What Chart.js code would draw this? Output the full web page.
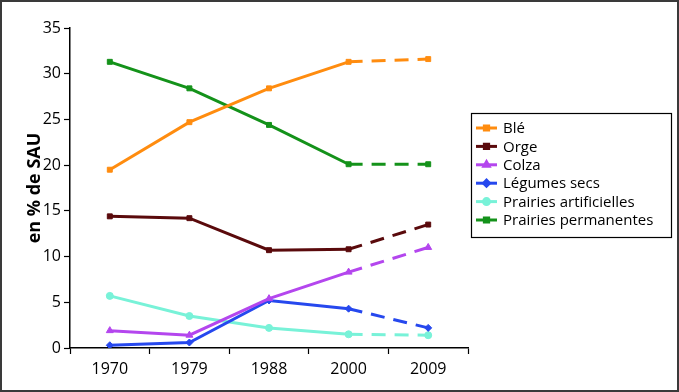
<!DOCTYPE html>
<html>
<head>
<meta charset="utf-8">
<script src="https://cdn.jsdelivr.net/npm/chart.js@4"></script>
<style>
  body { margin: 0; background: #fff; }
  #wrap { width: 679px; height: 392px; }
</style>
</head>
<body>
<div id="wrap"><canvas id="myChart" width="679" height="392"></canvas></div>
<script>
const years = ["1970", "1979", "1988", "2000", "2009"];
const ble = [19.5, 24.7, 28.4, 31.3, 31.6];
const orge = [14.4, 14.2, 10.7, 10.8, 13.5];
const colza = [1.9, 1.4, 5.4, 8.3, 11.0];
const legumes = [0.3, 0.6, 5.2, 4.3, 2.2];
const prairiesArt = [5.7, 3.5, 2.2, 1.5, 1.4];
const prairiesPerm = [31.3, 28.4, 24.4, 20.1, 20.1];
const yTicks = [0, 5, 10, 15, 20, 25, 30, 35];

const FONT = "'Open Sans', sans-serif";

// last segment (2000 -> 2009) is dashed
function serie(label, data, color, style) {
  return {
    label: label,
    data: data,
    borderColor: color,
    backgroundColor: color,
    borderWidth: 3,
    pointStyle: style,
    pointRadius: style === 'triangle' ? 4 : 3.5,
    pointBorderWidth: 1,
    tension: 0,
    segment: {
      borderDash: ctx => ctx.p0DataIndex === 3 ? [14, 9] : undefined
    }
  };
}

const frame = {
  id: 'frame',
  beforeDraw(chart) {
    const c = chart.ctx;
    c.save();
    c.fillStyle = '#fff';
    c.fillRect(0, 0, chart.width, chart.height);
    c.restore();
  },
  afterDraw(chart) {
    const c = chart.ctx;
    c.save();
    c.strokeStyle = '#3a3a3a';
    c.lineWidth = 2;
    c.strokeRect(1, 1, chart.width - 2, chart.height - 2);

    // legend box
    const x0 = 471, y0 = 113, w = 200, h = 124;
    c.lineWidth = 1.2;
    c.strokeStyle = '#000';
    c.strokeRect(x0 + 0.5, y0 + 0.5, w, h);
    c.font = "15px " + FONT;
    c.textBaseline = 'middle';
    chart.data.datasets.forEach((ds, i) => {
      const y = 128 + i * 18.4;
      c.strokeStyle = ds.borderColor;
      c.lineWidth = 3;
      c.beginPath();
      c.moveTo(476, y);
      c.lineTo(497, y);
      c.stroke();
      c.fillStyle = ds.backgroundColor;
      Chart.helpers.drawPoint(c, {pointStyle: ds.pointStyle, radius: 3, borderWidth: 1, rotation: 0}, 486.5, y);
      c.fillStyle = '#000';
      c.fillText(ds.label, 503, y + 1);
    });
    c.restore();
  }
};

new Chart("myChart", {
  type: "line",
  data: {
    labels: years,
    datasets: [
      serie("Blé", ble, "#ff8c0f", "rect"),
      serie("Orge", orge, "#5a0a0c", "rect"),
      serie("Colza", colza, "#b446ee", "triangle"),
      serie("Légumes secs", legumes, "#2648ee", "rectRot"),
      serie("Prairies artificielles", prairiesArt, "#78f2d8", "circle"),
      serie("Prairies permanentes", prairiesPerm, "#14921a", "rect")
    ]
  },
  options: {
    responsive: false,
    animation: false,
    layout: { padding: { top: 28, right: 211, left: 0, bottom: 0 } },
    plugins: {
      legend: { display: false },
      tooltip: { enabled: false }
    },
    scales: {
      x: {
        offset: true,
        afterFit: s => { s.height = 44; },
        grid: { offset: true, drawOnChartArea: false, color: '#000', tickLength: 6, tickWidth: 1.2 },
        border: { color: '#000', width: 1.5 },
        ticks: { color: '#000', font: { family: FONT, size: 16 }, padding: 6 }
      },
      y: {
        min: 0,
        max: 35,
        afterFit: s => { s.width = 70; },
        afterBuildTicks: s => { s.ticks = yTicks.map(v => ({ value: v })); },
        grid: { drawOnChartArea: false, color: '#000', tickLength: 6, tickWidth: 1.2 },
        border: { color: '#000', width: 1.5 },
        ticks: { color: '#000', font: { family: FONT, size: 16 }, padding: 3 },
        title: {
          display: true,
          text: "en % de SAU",
          color: '#000',
          font: { family: FONT, size: 18, weight: 'bold' },
          padding: { top: 24, bottom: 0 }
        }
      }
    }
  },
  plugins: [frame]
});
</script>
</body>
</html>
